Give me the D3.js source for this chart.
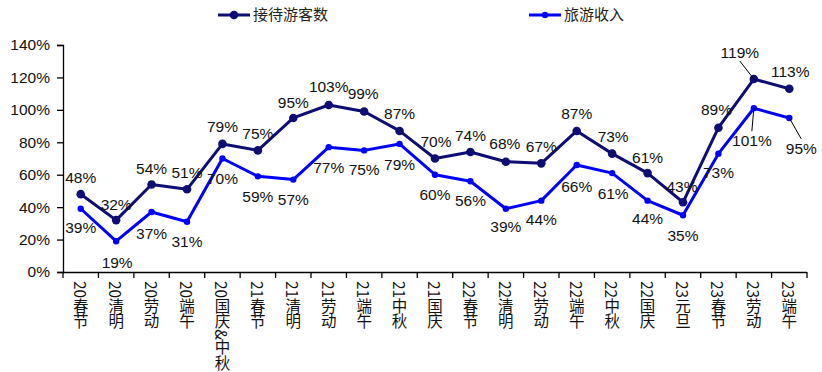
<!DOCTYPE html>
<html><head><meta charset="utf-8">
<script src="https://cdn.jsdelivr.net/npm/d3@7/dist/d3.min.js"></script>
<style>
html,body{margin:0;padding:0;background:#fff;}
svg{display:block;}
.vlab{writing-mode:vertical-rl;text-orientation:mixed;}
</style></head>
<body><svg id="chart" width="822" height="372"></svg>
<script>
// ---- data ----
const categories = ["20春节","20清明","20劳动","20端午","20国庆&中秋","21春节","21清明","21劳动","21端午","21中秋","21国庆","22春节","22清明","22劳动","22端午","22中秋","22国庆","23元旦","23春节","23劳动","23端午"];
const visitors = [48,32,54,51,79,75,95,103,99,87,70,74,68,67,87,73,61,43,89,119,113];
const revenue  = [39,19,37,31,70,59,57,77,75,79,60,56,39,44,66,61,44,35,73,101,95];
const seriesNames = ["接待游客数","旅游收入"];
const yTicks = [0,20,40,60,80,100,120,140];

// ---- label layout (offsets from point, px) ----
const visLabelOffsets = [[0,-17],[0,-16],[0,-16],[0,-17],[0,-17],[0,-17],[0,-16],[0,-19],[-1,-18],[0,-18],[1,-17],[0,-17],[-1,-18],[0,-17],[0,-18],[1,-17],[0,-16],[-1,-16],[-2,-18],[-14,-27],[1,-17]];
const revLabelOffsets = [[0,19],[1,21],[0,21],[0,20],[0,20],[0,20],[0,20],[0,20],[0,19],[0,21],[0,20],[0,19],[0,18],[0,19],[0,21],[1,20],[0,18],[0,20],[0,19],[-2,32],[12,30]];
const visLeaders = {19:true};
const revLeaders = {19:true, 20:true};

(function(){
const svg = d3.select("#chart");
const mLeft = 63, mRight = 807, mTop = 45, mBottom = 272;
const x = d3.scaleBand().domain(categories).range([mLeft, mRight]).padding(0);
const y = d3.scaleLinear().domain([0,140]).range([mBottom, mTop]);
const cx = c => x(c) + x.bandwidth()/2;
const txtCol = "#111";
const numFont = "'Liberation Sans', Arial, sans-serif";
const cjkFont = "'Noto Sans CJK SC', sans-serif";

// y axis
const yAxis = d3.axisLeft(y).tickValues(yTicks).tickFormat(d => d + "%").tickSize(6).tickPadding(7);
const gy = svg.append("g").attr("transform", `translate(${mLeft},0)`).call(yAxis);
gy.select(".domain").attr("stroke","#000").attr("stroke-width",1.3);
gy.selectAll(".tick line").attr("stroke","#000").attr("stroke-width",1.3);
gy.selectAll(".tick text").attr("font-family", numFont).attr("font-size", 15.5).attr("fill", txtCol);

// x axis line + boundary ticks
svg.append("line").attr("x1", mLeft).attr("x2", mRight).attr("y1", mBottom+0.5).attr("y2", mBottom+0.5)
  .attr("stroke","#000").attr("stroke-width",1.3);
const bounds = categories.map(c => x(c)).concat([mRight]);
svg.append("g").selectAll("line").data(bounds).join("line")
  .attr("x1", d => d).attr("x2", d => d).attr("y1", mBottom).attr("y2", mBottom+6)
  .attr("stroke","#000").attr("stroke-width",1.3);

// x labels (vertical)
svg.append("g").selectAll("text").data(categories).join("text")
  .attr("class","vlab")
  .attr("x", d => cx(d)).attr("y", mBottom + 9)
  .attr("font-family", cjkFont).attr("font-size", 15.5).attr("fill", txtCol)
  .text(d => d);

// lines
const navy = "#0d0d73", blue = "#0000ff";
function drawSeries(vals, color, r, lw) {
  const line = d3.line().x((d,i) => cx(categories[i])).y(d => y(d));
  svg.append("path").datum(vals).attr("d", line).attr("fill","none")
    .attr("stroke", color).attr("stroke-width", lw).attr("stroke-linejoin","round");
  svg.append("g").selectAll("circle").data(vals).join("circle")
    .attr("cx", (d,i) => cx(categories[i])).attr("cy", d => y(d)).attr("r", r).attr("fill", color);
}
drawSeries(revenue, blue, 3.2, 3);
drawSeries(visitors, navy, 4.3, 3);

function drawLabels(vals, offs, leaders) {
  const g = svg.append("g");
  vals.forEach((v,i) => {
    const px = cx(categories[i]), py = y(v);
    const lx = px + offs[i][0], ly = py + offs[i][1];
    if (leaders[i]) {
      const dir = offs[i][1] < 0 ? 1 : -1;
      g.append("line").attr("x1", px).attr("y1", py)
        .attr("x2", lx).attr("y2", ly + dir*9)
        .attr("stroke","#000").attr("stroke-width",1);
    }
    g.append("text").attr("x", lx).attr("y", ly).attr("dy","0.36em")
      .attr("text-anchor","middle").attr("font-family", numFont).attr("font-size", 15.5)
      .attr("fill", txtCol).text(v + "%");
  });
}
drawLabels(visitors, visLabelOffsets, visLeaders);
drawLabels(revenue, revLabelOffsets, revLeaders);

// legend
const legend = [{name: seriesNames[0], color: navy, x: 218, r: 4.3}, {name: seriesNames[1], color: blue, x: 529, r: 3.2}];
const lg = svg.append("g");
legend.forEach(l => {
  lg.append("line").attr("x1", l.x).attr("x2", l.x + 32).attr("y1", 15).attr("y2", 15)
    .attr("stroke", l.color).attr("stroke-width", 3);
  lg.append("circle").attr("cx", l.x + 16).attr("cy", 15).attr("r", l.r).attr("fill", l.color);
  lg.append("text").attr("x", l.x + 35).attr("y", 15).attr("dy","0.36em")
    .attr("font-family", cjkFont).attr("font-size", 15).attr("fill", "#222").text(l.name);
});
})();
</script></body></html>
